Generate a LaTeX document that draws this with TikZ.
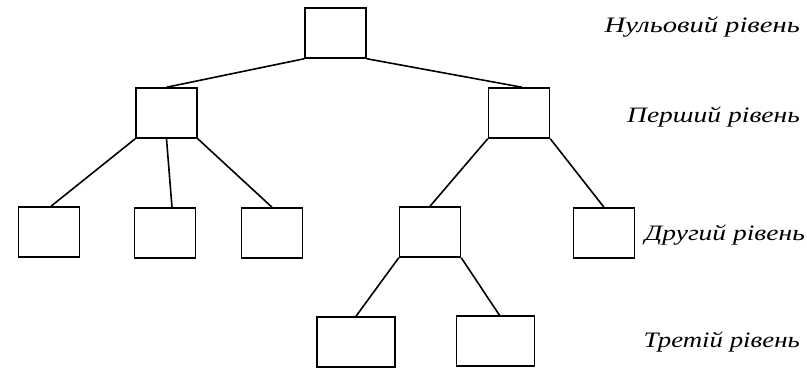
\documentclass[tikz,border=0pt]{standalone}
\usepackage{fontspec}
\setmainfont{Liberation Serif}[ItalicFont={Liberation Serif Italic}]
\usetikzlibrary{calc}
\begin{document}
\begin{tikzpicture}[x=1pt,y=-1pt,
  box/.style={draw,line width=1.5pt,inner sep=0pt,minimum width=61pt,minimum height=50pt},
  wbox/.style={box,minimum width=78pt},
  edge/.style={line width=1.6pt},
  lvl/.style={anchor=base east,inner sep=0pt,font=\fontsize{22}{24}\selectfont\itshape}]
\useasboundingbox (0,0) rectangle (807,369);
\node[box] (r) at (335.5,33) {};
\node[box] (l) at (166.5,113) {};
\node[box] (rr) at (519,113) {};
\node[box] (a) at (49,232) {};
\node[box] (b) at (165,233) {};
\node[box] (c) at (272,233) {};
\node[box] (d) at (430,232) {};
\node[box] (e) at (604,233) {};
\node[wbox] (f) at (356,342) {};
\node[wbox] (g) at (495.5,341) {};
\draw[edge] (r.south west) -- (l.north);
\draw[edge] (r.south east) -- ($(rr.north)+(3,0)$);
\draw[edge] (l.south west) -- ($(a.north)+(2,0)$);
\draw[edge] (l.south) -- ($(b.north)+(7,0)$);
\draw[edge] (l.south east) -- (c.north);
\draw[edge] (rr.south west) -- (d.north);
\draw[edge] (rr.south east) -- (e.north);
\draw[edge] (d.south west) -- (f.north);
\draw[edge] (d.south east) -- ($(g.north)+(4,0)$);
\node[lvl] (t0) at (800,33) {\scalebox{1.3}[1]{Нульовий рівень}};
\node[lvl] (t1) at (800,123) {\scalebox{1.25}[1]{Перший рівень}};
\node[lvl] (t2) at (805,240) {\scalebox{1.25}[1]{Другий рівень}};
\node[lvl] (t3) at (800,347) {\scalebox{1.22}[1]{Третій рівень}};
\end{tikzpicture}
\end{document}
